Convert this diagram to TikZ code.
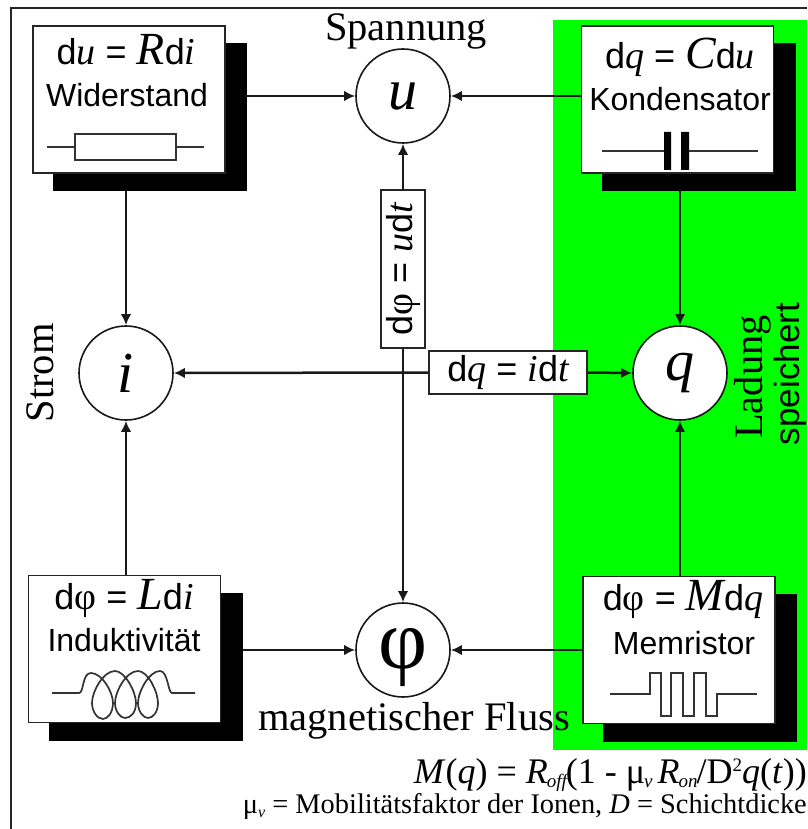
\documentclass[tikz,border=0pt]{standalone}
\usepackage{fontspec}
\setmainfont{Liberation Serif}
\setsansfont{Liberation Sans}
\usetikzlibrary{arrows.meta}
\newcommand{\fsz}[1]{\fontsize{#1}{#1}\selectfont}
\newcommand{\sa}[1]{{\sffamily\fsz{36}#1}}
\newcommand{\iu}[1]{{\rmfamily\itshape\fsz{38}#1}}
\newcommand{\iR}[1]{{\rmfamily\itshape\fsz{46}#1}}
\newcommand{\phichar}{{\rmfamily\fsz{38}φ}}
\newcommand{\subit}[1]{\kern-1pt\raisebox{-4pt}{\rmfamily\itshape\fsz{19}#1}\kern-1pt}
\newcommand{\drop}[2]{\raisebox{-#1pt}[30pt][30pt]{#2}}
\definecolor{leaf}{RGB}{0,255,0}
\tikzset{
  x=1pt,y=-1pt,
  panel/.style={draw=black!85,line width=1.6pt,fill=white,minimum width=192pt,minimum height=147pt,inner sep=0pt},
  shadowbox/.style={fill=black,minimum width=194pt,minimum height=148pt,inner sep=0pt},
  circ/.style={circle,draw=black!90,line width=1.6pt,fill=white,minimum size=94pt,inner sep=0pt,font=\rmfamily\itshape\fsz{58}},
  tagbox/.style={draw=black!85,line width=1.6pt,fill=white,inner sep=0pt},
  conn/.style={line width=2.5pt,draw=black!90,-{Latex[length=11pt,width=10.5pt]}},
  symline/.style={line width=1.7pt,draw=black!80},
  bigcap/.style={font=\rmfamily\fsz{40.5},inner sep=0pt},
  partname/.style={font=\sffamily\fsz{32},inner sep=0pt},
}
\begin{document}
\begin{tikzpicture}
\useasboundingbox (0,0) rectangle (807,829);
\fill[white] (0,0) rectangle (807,829);
\fill[leaf] (553,20) rectangle (807,750);
\draw[line width=2pt,black!85] (11,829) -- (11,8) -- (807,8);

% shadows
\node[shadowbox] (widS) at (150,117) {};
\node[shadowbox] (konS) at (698.5,117) {};
\node[shadowbox] (indS) at (146,667) {};
\node[shadowbox] (memS) at (700,668) {};
% panels
\node[panel] (wid) at (129,99.5) {};
\node[panel] (kon) at (677.5,99.5) {};
\node[panel] (ind) at (124.5,649) {};
\node[panel] (mem) at (679,650) {};
% circles
\node[circ] (u) at (403,96) {\drop{14}{u}};
\node[circ] (i) at (126,373) {\drop{19}{i}};
\node[circ] (q) at (680,373) {\drop{7}{q}};
\node[circ,font=\rmfamily\fsz{85}] (phi) at (403,650) {\drop{18}{φ}};
% tag boxes
\node[tagbox,minimum width=44pt,minimum height=158pt] (tagU) at (403,269) {};
\node[tagbox,minimum width=158pt,minimum height=43pt] (tagQ) at (508,372.5) {};

% connectors
\draw[conn] (u -| widS.east) -- (u.west);
\draw[conn] (u -| kon.west) -- (u.east);
\draw[conn] (phi -| indS.east) -- (phi.west);
\draw[conn] (phi -| mem.west) -- (phi.east);
\draw[conn] (i |- widS.south) -- (i.north);
\draw[conn] (i |- ind.north) -- (i.south);
\draw[conn] (q |- konS.south) -- (q.north);
\draw[conn] (q |- mem.north) -- (q.south);
\draw[conn] (tagU.north) -- (u.south);
\draw[conn] (tagU.south) -- (phi.north);
\draw[conn] (tagQ.west) -- (i.east);
\draw[conn] (tagQ.east) -- (q.west);

% tag text
\node[inner sep=0pt,rotate=90] (tagUt) at (403,269.5) {\sa{d}\phichar\sa{ = }\iu{u}\sa{d}\iu{t}};
\node[inner sep=0pt] (tagQt) at (508,372) {\sa{d}\iu{q}\sa{ = }\iu{i}\sa{d}\iu{t}};

% formulas
\node[inner sep=0pt,anchor=base] (f1) at (126,65) {\sa{d}\iu{u}\sa{ = }\iR{R}\sa{d}\iu{i}};
\node[inner sep=0pt,anchor=base] (f2) at (680,69) {\sa{d}\iu{q}\sa{ = }\iR{C}\sa{d}\iu{u}};
\node[inner sep=0pt,anchor=base] (f3) at (124,609) {\sa{d}\phichar\sa{ = }\iR{L}\sa{d}\iu{i}};
\node[inner sep=0pt,anchor=base] (f4) at (683,610) {\sa{d}\phichar\sa{ = }\iR{M}\sa{d}\iu{q}};
% names
\node[partname,anchor=base] (n1) at (127,107) {Widerstand};
\node[partname,anchor=base] (n2) at (680,111) {Kondensator};
\node[partname,anchor=base] (n3) at (124,651) {Induktivität};
\node[partname,anchor=base] (n4) at (684,654) {Memristor};

% component symbols
\draw[symline] (47,147) -- (75,147) (176,147) -- (204,147);
\draw[symline] (75,134) rectangle (176,160);
\draw[symline] (602,151) -- (664,151) (689,151) -- (758,151);
\fill[black] (664,132) rectangle (671,170) (681,132) rectangle (689,170);
\draw[symline,line join=round] (52,693) -- (79,693)
  .. controls (84,693) and (82,673) .. (91,673)
  .. controls (102,673) and (113,692) .. (113,703)
  .. controls (113,712) and (108,719) .. (103,719)
  .. controls (97,719) and (92,711) .. (92,703)
  .. controls (92,692) and (103,671) .. (115,671)
  .. controls (125,671) and (136,692) .. (136,703)
  .. controls (136,712) and (131,718) .. (125,718)
  .. controls (120,718) and (115,711) .. (115,703)
  .. controls (115,692) and (126,671) .. (138,671)
  .. controls (148,671) and (158,692) .. (158,703)
  .. controls (158,712) and (153,718) .. (148,718)
  .. controls (143,718) and (138,711) .. (138,703)
  .. controls (138,692) and (149,671) .. (160,671)
  .. controls (168,671) and (168,693) .. (172,693) -- (195,693);
\draw[symline] (610,694) -- (650,694) -- (650,673) -- (661,673) -- (661,716) -- (671,716) -- (671,673) -- (683,673) -- (683,716) -- (694,716) -- (694,673) -- (706,673) -- (706,716) -- (717,716) -- (717,694) -- (757,694);

% captions
\node[bigcap,anchor=base] (spannung) at (406,41) {Spannung};
\node[bigcap,anchor=base] (fluss) at (414,730) {magnetischer Fluss};
\node[bigcap,anchor=base,rotate=90] (strom) at (53,373) {Strom};
\node[bigcap,anchor=base,rotate=90] (ladung) at (762,377) {Ladung};
\node[font=\sffamily\fsz{35},inner sep=0pt,anchor=base,rotate=90] (speichert) at (799,374) {speichert};

% bottom lines
\node[inner sep=0pt,anchor=base east,font=\rmfamily\fsz{36}] (mq) at (807,783)
  {\textit{M}(\textit{q}) = \textit{R}\subit{off}(1 - μ\subit{v}\,\textit{R}\subit{on}/D\raisebox{12pt}{\fsz{19}2}\textit{q}(\textit{t}))};
\node[inner sep=0pt,anchor=base east,font=\rmfamily\fsz{28.4}] (mob) at (807,813)
  {μ\raisebox{-4pt}{\itshape\fsz{16}v} = Mobilitätsfaktor der Ionen, \textit{D} = Schichtdicke};
\end{tikzpicture}
\end{document}
